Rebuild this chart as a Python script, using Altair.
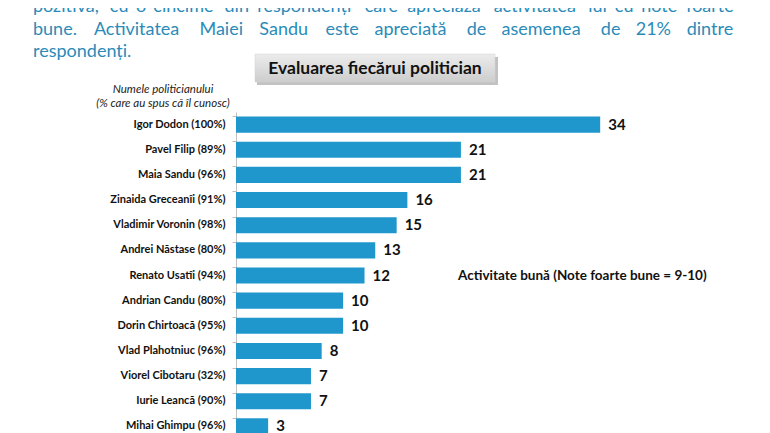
import altair as alt
import pandas as pd

names = [
    "Igor Dodon (100%)", "Pavel Filip (89%)", "Maia Sandu (96%)",
    "Zinaida Greceanîi (91%)", "Vladimir Voronin (98%)", "Andrei Năstase (80%)",
    "Renato Usatîi (94%)", "Andrian Candu (80%)", "Dorin Chirtoacă (95%)",
    "Vlad Plahotniuc (96%)", "Viorel Cibotaru (32%)", "Iurie Leancă (90%)",
    "Mihai Ghimpu (96%)",
]
values = [34, 21, 21, 16, 15, 13, 12, 10, 10, 8, 7, 7, 3]

header_lines = [
    "pozitivă, cu o cincime din respondenți care apreciază activitatea lui cu note foarte",
    "bune. Activitatea Maiei Sandu este apreciată de asemenea de 21% dintre",
    "respondenți.",
]
box_title = "Evaluarea fiecărui politician"
axis_title = ["Numele politicianului", "(% care au spus că îl cunosc)"]
note = "Activitate bună (Note foarte bune = 9-10)"

df = pd.DataFrame({"name": names, "value": values})

FONT = "Lato"
BAR = "#1f97cc"
TEAL = "#2b8bb8"

# --- approximate glyph widths (em) used only to justify the header text ---
W = {"a": .51, "b": .56, "c": .47, "d": .56, "e": .52, "f": .32, "g": .50, "h": .56,
     "i": .24, "j": .24, "k": .50, "l": .24, "m": .84, "n": .56, "o": .56, "p": .56,
     "q": .56, "r": .36, "s": .42, "t": .35, "u": .56, "v": .50, "w": .76, "x": .48,
     "y": .50, "z": .45, "ă": .51, "ț": .35, "A": .68, "M": .86, "S": .50,
     ".": .22, ",": .22, "%": .75}

def est(word):
    return sum(W.get(ch, .58) for ch in word)

SPACE = .19
# calibrate with the measured natural width of line 2 at 18px (~602px)
l2 = header_lines[1].split()
k = 602 / ((sum(est(w) for w in l2) + SPACE * (len(l2) - 1)) * 18) * 18

LEFT, RIGHT = 33, 737
X0, Y0 = 236, 112  # page position of plot origin

words = []
for li, (line, base_y) in enumerate(zip(header_lines, [12, 35, 57])):
    ws = line.split()
    widths = [est(w) * k for w in ws]
    if li < 2:
        gap = (RIGHT - LEFT - sum(widths)) / (len(ws) - 1)
    else:
        gap = SPACE * k
    x = LEFT
    for w, wd in zip(ws, widths):
        words.append({"t": w, "x": x - X0, "y": base_y - Y0})
        x += wd + gap
wdf = pd.DataFrame(words)

y_enc = alt.Y(
    "name:N", sort=names,
    scale=alt.Scale(paddingInner=0.36, paddingOuter=0.18),
    axis=alt.Axis(
        title=None, labelFont=FONT, labelFontWeight="bold", labelFontSize=11,
        labelColor="#111111", labelPadding=7, tickSize=4, bandPosition=0,
        tickColor="#c9b9b9", domainColor="#c0c0c0", labelLimit=300,
    ),
)
x_enc = alt.X("value:Q", scale=alt.Scale(domain=[0, 45]), axis=None)

base = alt.Chart(df)
bars = base.mark_bar(color=BAR).encode(x=x_enc, y=y_enc)
labels = base.mark_text(
    align="left", baseline="middle", dx=8, font=FONT, fontWeight="bold",
    fontSize=15, color="#111111",
).encode(x=x_enc, y=alt.Y("name:N", sort=names), text="value:Q")

def text_layer(t, x, y, **kw):
    return alt.Chart(pd.DataFrame({"t": [t]})).mark_text(**kw).encode(
        x=alt.value(x), y=alt.value(y), text="t:N")

header = alt.Chart(wdf).mark_text(
    align="left", baseline="alphabetic", font=FONT, fontSize=18, color=TEAL
).encode(
    x=alt.X("x:Q", scale=None), y=alt.Y("y:Q", scale=None), text="t:N"
)

shadow = alt.Chart(pd.DataFrame({"a": [0]})).mark_rect(
    color="#9a9a9a", opacity=0.6
).encode(x=alt.value(21), x2=alt.value(262), y=alt.value(-55), y2=alt.value(-27))
box = alt.Chart(pd.DataFrame({"a": [0]})).mark_rect(
    fill=alt.Gradient(gradient="linear", x1=0, y1=0, x2=0, y2=1,
                      stops=[alt.GradientStop(color="#ececec", offset=0),
                             alt.GradientStop(color="#cdcdcd", offset=1)]),
    stroke="#d0d0d0", strokeWidth=0.5,
).encode(x=alt.value(19), x2=alt.value(259), y=alt.value(-58), y2=alt.value(-30))
box_text = text_layer(box_title, 139, -43, align="center", baseline="middle",
                      font=FONT, fontWeight="bold", fontSize=17.5, color="#111111")

sub = [
    text_layer(t, -73, yy, align="center", baseline="middle", font=FONT,
               fontStyle="italic", fontSize=11.5, color="#222222")
    for t, yy in zip(axis_title, [-22, -8])
]
note_l = text_layer(note, 222, 164, align="left", baseline="middle", font=FONT,
                    fontWeight="bold", fontSize=13.5, color="#111111")

chart = alt.layer(bars, labels, header, shadow, box, box_text, *sub, note_l).properties(
    width=482, height=327,
    autosize=alt.AutoSizeParams(type="none"),
    padding={"left": 228, "top": 104, "right": 44, "bottom": 0},
).configure(background="white").configure_view(stroke=None)

chart.save("out.html", embed_options={"renderer": "svg", "actions": False})
